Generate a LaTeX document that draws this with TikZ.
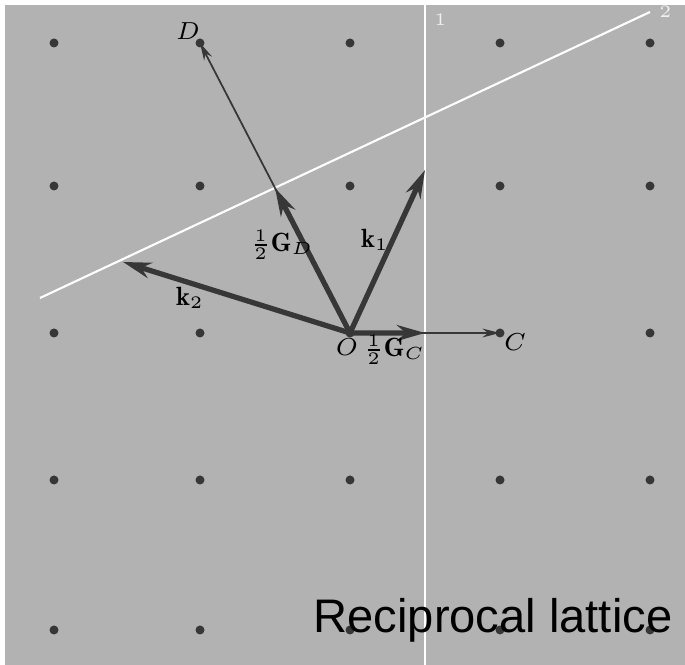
\documentclass[tikz,border=0pt]{standalone}
\usepackage{amsmath}
\usepackage{fontspec}
\newfontfamily\captionfont{Liberation Sans}
\usetikzlibrary{arrows.meta,calc}
\definecolor{paper}{RGB}{178,178,178}
\definecolor{ink}{RGB}{55,55,55}
\tikzset{
  latdot/.style={circle,fill=ink,inner sep=0pt,minimum size=0.09cm},
  wave/.style={ink,line width=1.5pt,-{Stealth[length=8pt,width=4.5pt]}},
  recip/.style={ink,line width=0.5pt,-{Stealth[length=5pt,width=2.5pt]}},
  plane/.style={white,line width=0.6pt},
  lbl/.style={inner sep=0.5pt,font=\fontsize{7.5}{9}\selectfont}
}
\begin{document}
\begin{tikzpicture}
    \useasboundingbox (0,0) rectangle (6.85,6.65);
    \fill[white] (0,0) rectangle (6.85,6.65);
    \fill[paper] (0.05,0) rectangle (6.85,6.60);
    % lattice points
    \foreach \x [count=\i] in {0.54,2.00,3.50,5.00,6.50}
      \foreach \y [count=\j] in {6.22,4.79,3.32,1.85,0.35}
        \node[latdot] (p\i\j) at (\x,\y) {};
    \coordinate (O) at (p33);
    \coordinate (D) at (p21);
    \coordinate (C) at (p43);
    % Bragg planes
    \coordinate (v1) at (4.25,6.60); \coordinate (v2) at (4.25,0);
    \coordinate (s1) at (0.40,3.67); \coordinate (s2) at (6.50,6.53);
    \draw[plane] (v1) -- (v2) node[pos=0,below right=-1pt,font=\tiny,text=white!80!paper] {1};
    \draw[plane] (s1) -- (s2) node[pos=1,right=-1pt,font=\tiny,text=white!80!paper] {2};
    % reciprocal vectors
    \draw[recip] (O) -- (D);
    \draw[recip] (O) -- (C);
    \coordinate (k1) at (4.25,4.95);
    \coordinate (k2) at (1.23,4.03);
    \coordinate (gd) at ($(O)!0.5!(D)$);
    \coordinate (gc) at ($(O)!0.5!(C)$);
    \draw[wave] (O) -- (k1);
    \draw[wave] (O) -- (k2);
    \draw[wave] (O) -- (gd);
    \draw[wave] (O) -- (gc);
    % labels
    \node[lbl] (lD) at (1.88,6.34) {$D$};
    \node[lbl] (lC) at (5.15,3.23) {$C$};
    \node[lbl] (lO) at (3.47,3.18) {$O$};
    \node[lbl,anchor=west] (lgc) at (3.61,3.15) {$\tfrac12\mathbf{G}_C$};
    \node[lbl] (lgd) at (2.82,4.20) {$\tfrac12\mathbf{G}_D$};
    \node[lbl] (lk1) at (3.75,4.25) {$\mathbf{k}_1$};
    \node[lbl] (lk2) at (1.90,3.67) {$\mathbf{k}_2$};
    \node[anchor=base west,inner sep=0pt,font=\captionfont\fontsize{13.4}{16}\selectfont] (title) at (3.13,0.32) {Reciprocal lattice};
\end{tikzpicture}
\end{document}
